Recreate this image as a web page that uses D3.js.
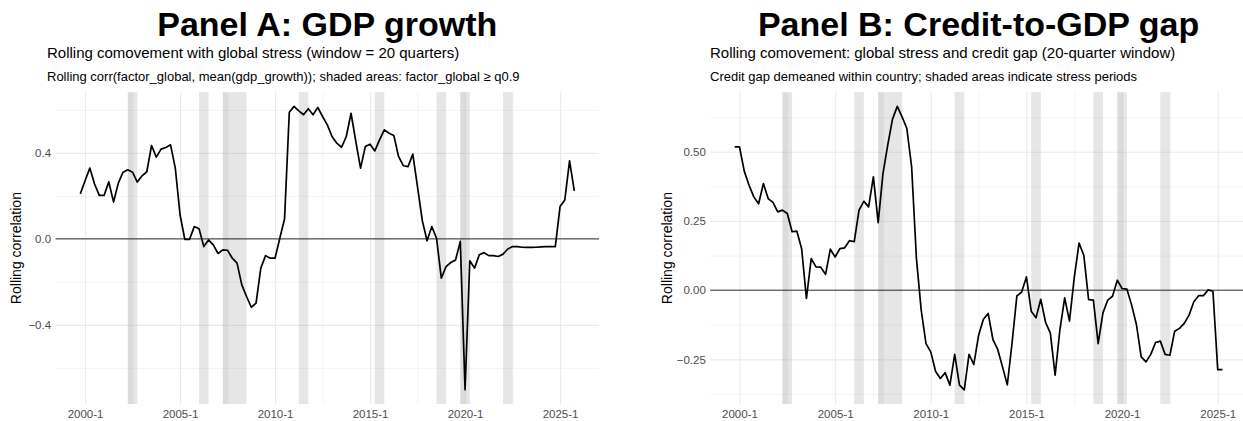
<!DOCTYPE html>
<html><head><meta charset="utf-8">
<script src="https://cdn.jsdelivr.net/npm/d3@7/dist/d3.min.js"></script>
<style>
body{margin:0;background:#fff;}
svg text{font-family:"Liberation Sans",Arial,Helvetica,sans-serif;}
</style>
</head><body>
<svg id="chart" width="1243" height="421"></svg>
<script>
// ---------- data ----------
const startYear = 1999, startQuarter = 4;   // first observation: 1999-4

// Panel A: rolling corr(factor_global, mean(gdp_growth)), 1999-4 .. 2025-4
const gdpCorr = [
  0.209, 0.270, 0.329, 0.255, 0.202, 0.202, 0.265, 0.171, 0.259, 0.310,
  0.321, 0.310, 0.264, 0.293, 0.312, 0.434, 0.380, 0.417, 0.425, 0.437,
  0.329, 0.112, -0.002, -0.002, 0.057, 0.047, -0.036, -0.005, -0.028, -0.068,
  -0.051, -0.053, -0.090, -0.113, -0.214, -0.268, -0.318, -0.299, -0.136, -0.078,
  -0.090, -0.090, 0.003, 0.093, 0.589, 0.616, 0.595, 0.577, 0.605, 0.577,
  0.611, 0.569, 0.530, 0.476, 0.445, 0.426, 0.476, 0.584, 0.453, 0.329,
  0.429, 0.440, 0.409, 0.460, 0.507, 0.491, 0.481, 0.383, 0.340, 0.336,
  0.394, 0.240, 0.085, -0.009, 0.057, 0.003, -0.183, -0.129, -0.110, -0.098,
  -0.012, -0.702, -0.102, -0.136, -0.074, -0.064, -0.078, -0.078, -0.082, -0.071,
  -0.047, -0.036, -0.036, -0.039, -0.040, -0.040, -0.039, -0.037, -0.036, -0.036,
  -0.036, 0.150, 0.181, 0.363, 0.223
];

// Panel B: rolling corr(global stress, credit gap), 1999-4 .. 2025-2
const creditCorr = [
  0.518, 0.518, 0.430, 0.379, 0.337, 0.312, 0.385, 0.331, 0.317, 0.283,
  0.289, 0.277, 0.211, 0.213, 0.150, -0.030, 0.114, 0.084, 0.083, 0.057,
  0.148, 0.120, 0.150, 0.153, 0.179, 0.175, 0.289, 0.321, 0.301, 0.409,
  0.244, 0.421, 0.524, 0.618, 0.664, 0.626, 0.584, 0.445, 0.114, -0.072,
  -0.193, -0.223, -0.293, -0.319, -0.298, -0.343, -0.232, -0.343, -0.360, -0.232,
  -0.268, -0.163, -0.105, -0.084, -0.179, -0.214, -0.277, -0.342, -0.190, -0.021,
  -0.007, 0.048, -0.076, -0.100, -0.033, -0.116, -0.155, -0.307, -0.143, -0.028,
  -0.112, 0.045, 0.170, 0.126, -0.034, -0.036, -0.193, -0.082, -0.036, -0.022,
  0.036, 0.006, 0.004, -0.054, -0.124, -0.241, -0.259, -0.232, -0.189, -0.184,
  -0.232, -0.235, -0.148, -0.138, -0.120, -0.090, -0.042, -0.020, -0.020, 0.001,
  -0.004, -0.287, -0.287
];

// stress periods (factor_global >= q0.9), quarter labels "year-quarter"
const stressStart = ["2002-2","2006-1","2007-2","2011-2","2015-2","2018-3","2019-4","2022-1"];
const stressEnd   = ["2002-4","2006-3","2008-3","2011-4","2015-4","2019-1","2020-2","2022-3"];
// overlapping stress rectangles (appear darker)
const overlapStart = ["2002-2","2007-2","2019-4"];
const overlapEnd   = ["2002-3","2007-3","2020-1"];

const xTickLabels = ["2000-1","2005-1","2010-1","2015-1","2020-1","2025-1"];
const xMinorLabels = ["2002-3","2007-3","2012-3","2017-3","2022-3"];

const yTicksA = [-0.4, 0, 0.4];
const yMinorA = [-0.6, -0.2, 0.2, 0.6];
const yTicksB = [-0.25, 0, 0.25, 0.5];
const yMinorB = [-0.375, -0.125, 0.125, 0.375, 0.625];

const titles    = ["Panel A: GDP growth", "Panel B: Credit-to-GDP gap"];
const subtitles = ["Rolling comovement with global stress (window = 20 quarters)",
                   "Rolling comovement: global stress and credit gap (20-quarter window)"];
const captions  = ["Rolling corr(factor_global, mean(gdp_growth)); shaded areas: factor_global \u2265 q0.9",
                   "Credit gap demeaned within country; shaded areas indicate stress periods"];
const yTitle = "Rolling correlation";

// ---------- helpers ----------
const qToNum = s => { const [y,q] = s.split("-").map(Number); return y + (q-1)/4; };
const seriesTimes = n => d3.range(n).map(i => startYear + (startQuarter-1)/4 + i/4);

const svg = d3.select("#chart");

function panel(cfg){
  const times = seriesTimes(cfg.values.length);
  const data = times.map((t,i)=>({t, v: cfg.values[i]}));
  const tExt = d3.extent(times), tPad = (tExt[1]-tExt[0])*0.05;
  const vExt = d3.extent(cfg.values), vPad = (vExt[1]-vExt[0])*0.05;
  const x = d3.scaleLinear().domain([tExt[0]-tPad, tExt[1]+tPad]).range([cfg.left, cfg.right]);
  const y = d3.scaleLinear().domain([vExt[0]-vPad, vExt[1]+vPad]).range([cfg.bottom, cfg.top]);
  const g = svg.append("g");
  const W = cfg.right-cfg.left, H = cfg.bottom-cfg.top;

  // grid (minor then major)
  const gridX = (vals, w) => g.append("g").attr("transform",`translate(0,${cfg.bottom})`)
      .call(d3.axisBottom(x).tickValues(vals).tickSize(-H).tickFormat(""))
      .call(s=>{s.select(".domain").remove(); s.selectAll("line").attr("stroke","#ebebeb").attr("stroke-width",w);});
  const gridY = (vals, w) => g.append("g").attr("transform",`translate(${cfg.left},0)`)
      .call(d3.axisLeft(y).tickValues(vals).tickSize(-W).tickFormat(""))
      .call(s=>{s.select(".domain").remove(); s.selectAll("line").attr("stroke","#ebebeb").attr("stroke-width",w);});
  gridX(xMinorLabels.map(qToNum), 0.6);
  gridY(cfg.yMinor, 0.6);
  gridX(xTickLabels.map(qToNum), 1.1);
  gridY(cfg.yTicks, 1.1);

  // stress shading
  g.append("g").selectAll("rect").data(stressStart.map((s,i)=>[qToNum(s), qToNum(stressEnd[i])]))
    .join("rect").attr("x",d=>x(d[0])).attr("width",d=>x(d[1])-x(d[0]))
    .attr("y",cfg.top).attr("height",H).attr("fill","#8c8c8c").attr("fill-opacity",0.22);
  g.append("g").selectAll("rect").data(overlapStart.map((s,i)=>[qToNum(s), qToNum(overlapEnd[i])]))
    .join("rect").attr("x",d=>x(d[0])).attr("width",d=>x(d[1])-x(d[0]))
    .attr("y",cfg.top).attr("height",H).attr("fill","#8c8c8c").attr("fill-opacity",0.10);

  // zero line
  g.append("line").attr("x1",cfg.left).attr("x2",cfg.right).attr("y1",y(0)).attr("y2",y(0))
    .attr("stroke","#1a1a1a").attr("stroke-width",0.9);

  // series
  g.append("path").datum(data).attr("fill","none").attr("stroke","#000").attr("stroke-width",1.7)
    .attr("stroke-linejoin","round")
    .attr("d", d3.line().x(d=>x(d.t)).y(d=>y(d.v)));

  // axes text
  g.append("g").attr("transform",`translate(0,${cfg.bottom})`)
    .call(d3.axisBottom(x).tickValues(xTickLabels.map(qToNum)).tickSize(0).tickPadding(6)
      .tickFormat((d,i)=>xTickLabels[i]))
    .call(s=>{s.select(".domain").remove(); s.selectAll("text").attr("fill","#4d4d4d").attr("font-size",11.5).attr("font-family",null);});
  g.append("g").attr("transform",`translate(${cfg.left},0)`)
    .call(d3.axisLeft(y).tickValues(cfg.yTicks).tickSize(0).tickPadding(4.5).tickFormat(d3.format(cfg.yFmt)))
    .call(s=>{s.select(".domain").remove(); s.selectAll("text").attr("fill","#4d4d4d").attr("font-size",11.5).attr("font-family",null);});

  g.append("text").attr("transform",`translate(${cfg.yTitleX},${(cfg.top+cfg.bottom)/2}) rotate(-90)`)
    .attr("text-anchor","middle").attr("font-size",14).attr("fill","#000").text(yTitle);

  // titles
  g.append("text").attr("x",(cfg.left+cfg.right)/2).attr("y",36).attr("text-anchor","middle")
    .attr("font-size",34).attr("font-weight","bold").attr("fill","#000").text(cfg.title);
  g.append("text").attr("x",cfg.subX).attr("y",58).attr("font-size",15).attr("fill","#000").text(cfg.subtitle);
  g.append("text").attr("x",cfg.subX).attr("y",81).attr("font-size",13).attr("fill","#000").text(cfg.caption);
}

panel({values:gdpCorr, left:55.6, right:599, top:92.2, bottom:404, yTicks:yTicksA, yMinor:yMinorA, yFmt:".1f",
       yTitleX:21, title:titles[0], subtitle:subtitles[0], caption:captions[0], subX:47});
panel({values:creditCorr, left:710.3, right:1246.9, top:92.2, bottom:404, yTicks:yTicksB, yMinor:yMinorB, yFmt:".2f",
       yTitleX:672, title:titles[1], subtitle:subtitles[1], caption:captions[1], subX:710});
</script>
</body></html>
